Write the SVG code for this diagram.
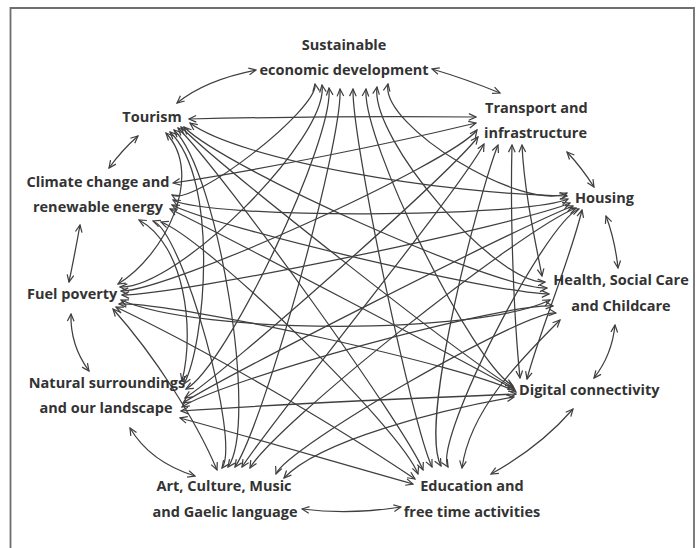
<svg xmlns="http://www.w3.org/2000/svg" width="697" height="548" viewBox="0 0 697 548">
<defs>
<style>
.lbl{font-family:"Open Sans","Liberation Sans",sans-serif;font-weight:700;font-size:14.5px;fill:#333333}
.m{text-anchor:middle}
.e{fill:none;stroke:#3f3f3f;stroke-width:1.25;marker-start:url(#ah);marker-end:url(#ah)}
.frame{fill:none;stroke:#6e6e6e;stroke-width:1.8}
</style>
<marker id="ah" viewBox="0 0 10 10" refX="9" refY="5" markerWidth="9" markerHeight="9" markerUnits="userSpaceOnUse" orient="auto-start-reverse">
<path d="M1,1.3 L9,5 L1,8.7" fill="none" stroke="#3f3f3f" stroke-width="1.35"/>
</marker>
</defs>
<rect width="697" height="548" fill="#ffffff"/>
<path class="frame" d="M10.5,548 V8 H694 V548"/>

<g id="connectors">
<!-- adjacent -->
<path class="e" d="M177,103 Q205,80 256,70"/>
<path class="e" d="M432,69 Q466,79 500,93"/>
<path class="e" d="M567,152 Q582,168 594,187"/>
<path class="e" d="M606,216 Q615,240 618,268"/>
<path class="e" d="M615,325 Q612,355 594,378"/>
<path class="e" d="M573,409 Q540,447 491,474"/>
<path class="e" d="M401,507 Q350,515 302,509"/>
<path class="e" d="M195,476 Q150,462 130,428"/>
<path class="e" d="M89,371 Q70,345 71,314"/>
<path class="e" d="M69,282 Q75,253 80,225"/>
<path class="e" d="M109,168 Q122,150 138,136"/>
<!-- non-adjacent -->
<path class="e" d="M388,84 C380,126 524,213 567,193"/>
<path class="e" d="M377,87 C370,139 496,285 545,282"/>
<path class="e" d="M366,89 C362,141 472,363 513,386"/>
<path class="e" d="M353,89 C352,141 412,424 432,467"/>
<path class="e" d="M340,89 C343,141 264,424 235,467"/>
<path class="e" d="M329,88 C334,140 227,366 186,389"/>
<path class="e" d="M322,85 C329,138 178,289 120,287"/>
<path class="e" d="M315,84 C319,109 193,207 172,195"/>
<path class="e" d="M522,145 C524,190 535,240 542,276"/>
<path class="e" d="M512,145 C510,220 514,320 520,378"/>
<path class="e" d="M498,145 C480,190 418,423 441,466"/>
<path class="e" d="M484,144 C460,190 269,424 242,467"/>
<path class="e" d="M478,137 C446,177 226,372 185,398"/>
<path class="e" d="M477,130 C452,163 167,292 121,291"/>
<path class="e" d="M476,123 C385,145 264,169 173,183"/>
<path class="e" d="M476,117 C380,116 280,117 189,119"/>
<path class="e" d="M582,210 C570,260 540,330 527,379"/>
<path class="e" d="M579,209 C545,222 433,441 448,467"/>
<path class="e" d="M576,208 C520,230 275,425 250,468"/>
<path class="e" d="M573,206 C517,228 225,376 183,403"/>
<path class="e" d="M570,203 C515,226 179,295 122,295"/>
<path class="e" d="M568,199 C524,218 208,219 173,200"/>
<path class="e" d="M567,196 C440,194 240,160 190,123"/>
<path class="e" d="M560,320 C520,360 470,410 462,468"/>
<path class="e" d="M556,313 C525,310 287,447 276,474"/>
<path class="e" d="M553,306 C502,303 224,379 182,407"/>
<path class="e" d="M550,300 C480,335 200,335 121,300"/>
<path class="e" d="M549,294 C499,294 217,228 172,205"/>
<path class="e" d="M547,288 C498,290 226,169 184,127"/>
<path class="e" d="M514,397 C440,410 320,440 284,478"/>
<path class="e" d="M516,394 C420,398 280,404 181,411"/>
<path class="e" d="M516,392 C475,368 177,302 119,304"/>
<path class="e" d="M515,390 C474,366 215,231 170,209"/>
<path class="e" d="M514,388 C473,365 223,169 181,127"/>
<path class="e" d="M413,484 C335,462 250,437 180,418"/>
<path class="e" d="M415,479 C330,422 210,352 116,307"/>
<path class="e" d="M418,474 C401,429 208,240 161,222"/>
<path class="e" d="M423,470 C405,426 221,170 178,128"/>
<path class="e" d="M217,470 C196,420 154,355 113,309"/>
<path class="e" d="M222,468 C241,442 183,232 153,221"/>
<path class="e" d="M228,467 C259,424 218,171 174,130"/>
<path class="e" d="M182,381 C195,330 185,245 139,220"/>
<path class="e" d="M184,384 C205,345 220,180 170,132"/>
<path class="e" d="M118,284 C165,255 205,175 166,133"/>
</g>

<g id="n-sed"><text class="lbl m" x="344" y="50">Sustainable</text><text class="lbl m" x="344" y="75">economic development</text></g>
<g id="n-transport"><text class="lbl" x="485" y="113">Transport and</text><text class="lbl" x="484" y="138">infrastructure</text></g>
<g id="n-housing"><text class="lbl" x="575" y="203">Housing</text></g>
<g id="n-health"><text class="lbl m" x="621" y="285">Health, Social Care</text><text class="lbl m" x="621" y="311">and Childcare</text></g>
<g id="n-digital"><text class="lbl" x="519" y="395">Digital connectivity</text></g>
<g id="n-education"><text class="lbl m" x="472" y="491">Education and</text><text class="lbl m" x="472" y="517">free time activities</text></g>
<g id="n-art"><text class="lbl m" x="224" y="491">Art, Culture, Music</text><text class="lbl m" x="225" y="517">and Gaelic language</text></g>
<g id="n-natural"><text class="lbl m" x="107" y="388">Natural surroundings</text><text class="lbl m" x="106" y="413">and our landscape</text></g>
<g id="n-fuel"><text class="lbl" x="27" y="299">Fuel poverty</text></g>
<g id="n-climate"><text class="lbl m" x="98" y="187">Climate change and</text><text class="lbl m" x="98" y="212">renewable energy</text></g>
<g id="n-tourism"><text class="lbl m" x="152" y="122">Tourism</text></g>
</svg>
